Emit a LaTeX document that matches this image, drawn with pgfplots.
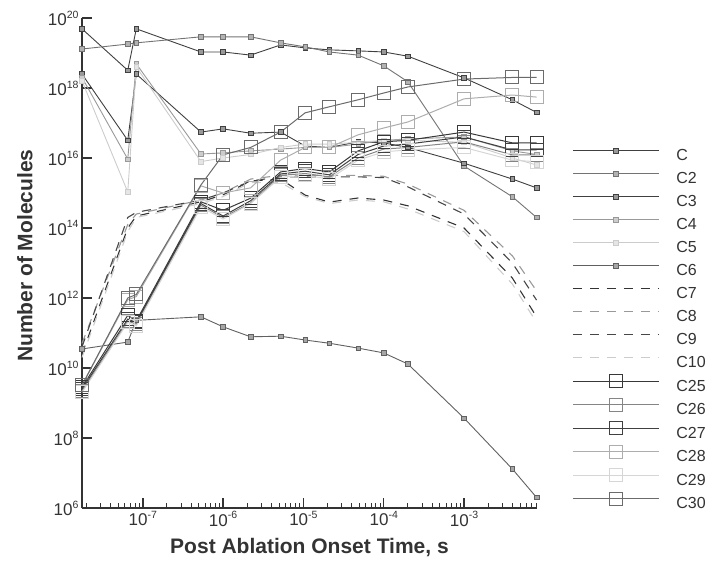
\documentclass[border=0pt]{standalone}
\usepackage{fontspec}
\setmainfont{Liberation Sans}
\usepackage{pgfplots}
\usepackage{pgfplotstable}
\pgfplotsset{compat=1.18}

% tick label: 10 with a raised exponent, set in the text font
\newcommand{\tl}[1]{10\raisebox{0.42em}{\fontsize{10.5}{11}\selectfont #1}}

% species with small markers
\pgfplotstableread{
t        C       C2      C3      C4      C5      C6
1.75e-8  4.9e19  1.3e19  2.5e18  2.0e18  1.6e18  3.5e10
6.5e-8   3.2e18  1.8e19  3.2e16  9.3e15  1.07e15 5.5e10
8.3e-8   4.9e19  1.95e19 2.5e18  4.9e18  4.0e18  2.3e11
5.3e-7   1.07e19 2.9e19  5.5e16  1.3e16  7.9e15  2.9e11
1e-6     1.07e19 2.9e19  6.8e16  1.4e16  1e16    1.5e11
2.2e-6   8.7e18  2.9e19  5.1e16  1.6e16  1.26e16 7.8e10
5.2e-6   1.7e19  1.95e19 5.5e16  1.8e16  2.0e16  8.1e10
1.05e-5  1.4e19  1.5e19  2.2e16  2.0e16  2.5e16  6.3e10
2.1e-5   1.23e19 1.07e19 2.0e16  2.0e16  2.5e16  5.1e10
4.8e-5   1.15e19 8.7e18  2.9e16  2.5e16  2.8e16  3.7e10
1e-4     1.07e19 4.3e18  2.7e16  3.2e16  3.2e16  2.7e10
2e-4     8.1e18  1.5e18  2.0e16  3.5e16  3.2e16  1.3e10
1e-3     1.95e18 5.9e15  7.1e15  4.0e16  2.8e16  3.7e8
4e-3     4.6e17  7.8e14  2.5e15  1.6e16  1e16    1.3e7
8e-3     2.0e17  2.0e14  1.4e15  1.26e16 6.3e15  2.0e6
}\smallspecies

% dashed species
\pgfplotstableread{
t        C7      C8      C9      C10
1.75e-8  2.5e10  5e10    4e10    2e10
6.5e-8   1e14    1.26e14 2e14    7.9e13
8.3e-8   2.2e14  2.5e14  2.8e14  2e14
5.3e-7   5.6e14  6.3e14  6.3e14  5e14
1e-6     8.9e14  1e15    1e15    7.9e14
2.2e-6   2.2e15  2.5e15  2.2e15  2e15
5.2e-6   2.5e15  3.2e15  2.9e15  2e15
1.05e-5  8.7e14  3.2e15  2.9e15  7.9e14
2.1e-5   5.5e14  3.2e15  2.9e15  5e14
4.8e-5   7.2e14  3.2e15  2.9e15  6.3e14
1e-4     6.3e14  3e15    2.75e15 5.6e14
2e-4     4.3e14  1.8e15  1.5e15  3.5e14
1e-3     1e14    3.2e14  2.5e14  7.9e13
4e-3     3.7e12  1.6e13  1e13    2.5e12
8e-3     2.9e11  1.6e12  8.7e11  2e11
}\dashspecies

% large clusters
\pgfplotstableread{
t        C25     C26     C27     C28     C29     C30
1.75e-8  2.8e9   2.2e9   2.5e9   3.2e9   2e9     3.2e9
6.5e-8   3.2e11  2.2e11  2.5e11  8.9e11  2e11    1e12
8.3e-8   2.2e11  1.8e11  2e11    1.1e12  1.6e11  1.26e12
5.3e-7   5.6e14  4.5e14  5e14    1.6e15  4e14    1.7e15
1e-6     3.2e14  2e14    2.2e14  1e15    1.8e14  1.23e16
2.2e-6   7.1e14  5.2e14  6e14    1.4e15  5e14    2.0e16
5.2e-6   4e15    3.2e15  3.5e15  8.7e15  2.8e15  5.5e16
1.05e-5  5e15    3.6e15  4.2e15  2.0e16  3.2e15  1.95e17
2.1e-5   4e15    2.9e15  3.3e15  2.0e16  2.5e15  2.9e17
4.8e-5   1.6e16  1e16    1.26e16 4.6e16  8.7e15  4.6e17
1e-4     2.9e16  1.8e16  2.2e16  7.2e16  1.5e16  7.2e17
2e-4     3.2e16  2e16    2.5e16  1.07e17 1.7e16  1.07e18
1e-3     5.5e16  2.9e16  4e16    4.9e17  2e16    1.8e18
4e-3     2.7e16  1.23e16 1.7e16  6.3e17  8.7e15  2.0e18
8e-3     2.7e16  1.23e16 1.7e16  5.5e17  7.8e15  2.0e18
}\bigspecies

\pgfplotsset{
  sq/.style 2 args={color=black!#1, solid, line width=0.9pt, mark=square*, mark size=2.3pt,
    mark options={solid, line width=0.6pt, draw=black!#1, fill=black!#2}},
  dsh/.style={color=black!#1, line width=1.1pt, dash pattern=on 9pt off 8pt, mark=none},
  bsq/.style={color=black!#1, solid, line width=1pt, mark=square, mark size=6.5pt,
    mark options={solid, line width=1pt}},
}

\begin{document}
\begin{tikzpicture}
\useasboundingbox (-82pt,-58pt) rectangle (630pt,508pt);
\begin{axis}[
  at={(0pt,0pt)}, anchor=south west,
  scale only axis, width=455pt, height=490pt,
  xmode=log, ymode=log,
  xmin=1.75e-8, xmax=8.1e-3, ymin=1e6, ymax=1e20,
  axis x line*=bottom, axis y line*=left,
  axis line style={line width=2.4pt, black!80},
  clip=false,
  xtick={1e-7,1e-6,1e-5,1e-4,1e-3},
  xticklabels={\tl{-7},\tl{-6},\tl{-5},\tl{-4},\tl{-3}},
  xminorticks=true,
  minor xtick={2e-8,3e-8,4e-8,5e-8,6e-8,7e-8,8e-8,9e-8,
    2e-7,3e-7,4e-7,5e-7,6e-7,7e-7,8e-7,9e-7,
    2e-6,3e-6,4e-6,5e-6,6e-6,7e-6,8e-6,9e-6,
    2e-5,3e-5,4e-5,5e-5,6e-5,7e-5,8e-5,9e-5,
    2e-4,3e-4,4e-4,5e-4,6e-4,7e-4,8e-4,9e-4,
    2e-3,3e-3,4e-3,5e-3,6e-3,7e-3,8e-3},
  ytick={1e6,1e8,1e10,1e12,1e14,1e16,1e18,1e20},
  yticklabels={\tl{6},\tl{8},\tl{10},\tl{12},\tl{14},\tl{16},\tl{18},\tl{20}},
  yminorticks=false,
  tick align=inside,
  major tick length=10pt, minor tick length=5pt,
  major tick style={line width=1.5pt, black!80},
  minor tick style={line width=1pt, black!80},
  ticklabel style={font=\fontsize{17}{17}\selectfont, text=black!80},
  xlabel={Post Ablation Onset Time, s},
  ylabel={Number of Molecules},
  label style={font=\bfseries\fontsize{21}{21}\selectfont, text=black!80},
  xlabel style={at={(axis description cs:0.5,-0.0816)}, anchor=center},
  ylabel style={at={(axis description cs:-0.1253,0.515)}, anchor=center},
  legend cell align=left,
  legend image code/.code={\draw[mark repeat=2,mark phase=2,#1]
    plot coordinates {(0pt,5.5pt) (43pt,5.5pt) (86pt,5.5pt)};},
  legend style={at={(axis description cs:1.077,0.742)}, anchor=north west,
    draw=none, fill=none, inner sep=0pt, row sep=0pt, column sep=17pt,
    font=\fontsize{16}{16}\selectfont,
    nodes={inner sep=0pt, text height=16pt, text depth=7pt, text=black!80}},
]
\addplot[sq={75}{40}] table[x=t, y=C]   {\smallspecies};
\addplot[sq={55}{30}] table[x=t, y=C2]  {\smallspecies};
\addplot[sq={75}{40}] table[x=t, y=C3]  {\smallspecies};
\addplot[sq={40}{20}] table[x=t, y=C4]  {\smallspecies};
\addplot[sq={20}{10}] table[x=t, y=C5]  {\smallspecies};
\addplot[sq={62}{35}] table[x=t, y=C6]  {\smallspecies};
\addplot[dsh=80] table[x=t, y=C7]  {\dashspecies};
\addplot[dsh=40] table[x=t, y=C8]  {\dashspecies};
\addplot[dsh=72] table[x=t, y=C9]  {\dashspecies};
\addplot[dsh=20] table[x=t, y=C10] {\dashspecies};
\addplot[bsq=78] table[x=t, y=C25] {\bigspecies};
\addplot[bsq=48] table[x=t, y=C26] {\bigspecies};
\addplot[bsq=75] table[x=t, y=C27] {\bigspecies};
\addplot[bsq=32] table[x=t, y=C28] {\bigspecies};
\addplot[bsq=16] table[x=t, y=C29] {\bigspecies};
\addplot[bsq=58] table[x=t, y=C30] {\bigspecies};
\legend{C,C2,C3,C4,C5,C6,C7,C8,C9,C10,C25,C26,C27,C28,C29,C30}
\end{axis}
\end{tikzpicture}
\end{document}
